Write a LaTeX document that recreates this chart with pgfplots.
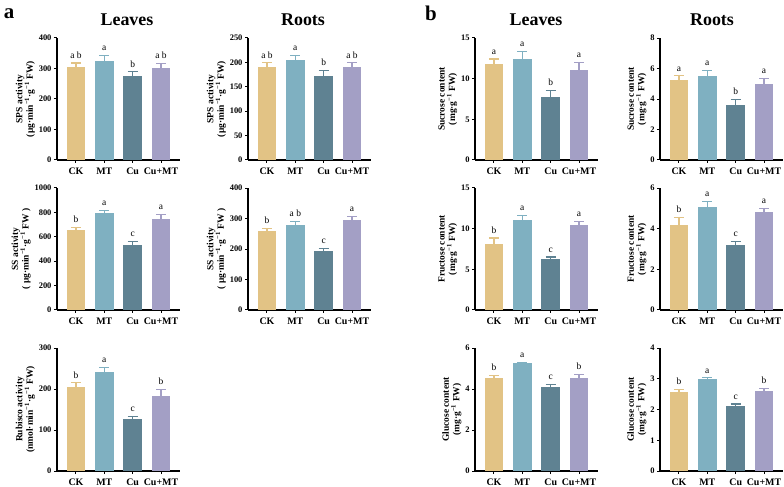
\documentclass[border=0pt]{standalone}
\usepackage{fontspec}
\setmainfont{Liberation Serif}
\usepackage{pgfplots}
\pgfplotsset{compat=1.18}

\definecolor{ckc}{HTML}{E2C385}
\definecolor{mtc}{HTML}{7FB0C1}
\definecolor{cuc}{HTML}{5F8292}
\definecolor{cmc}{HTML}{A39FC5}

\pgfplotsset{
  panel/.style={
    width=123bp, height=122bp, scale only axis,
    xmin=-0.67, xmax=3.67, ymin=0,
    axis lines*=left,
    axis line style={-, line width=1.1pt, black},
    xtick={0,1,2,3}, xticklabels={CK,MT,Cu,Cu+MT},
    tick align=outside, major tick length=3bp,
    tick style={line width=1pt, black},
    xtick pos=bottom, ytick pos=left,
    /pgf/number format/assume math mode=true,
    /pgf/number format/1000 sep={},
    xticklabel style={font=\bfseries\fontsize{10}{11}\selectfont, yshift=-1bp},
    yticklabel style={font=\bfseries\fontsize{8.5}{9}\selectfont, xshift=1bp},
    ylabel style={font=\bfseries\fontsize{9.5}{10.5}\selectfont, align=center, yshift=-3bp},
    clip=false,
  },
  mkbar/.style={ybar, bar width=0.65, bar shift=0pt, fill=#1, draw=none,
    error bars/.cd, y dir=plus, y explicit,
    error bar style={#1, line width=1.1pt},
    error mark options={#1, rotate=90, mark size=5bp, line width=1.1pt}},
  letters/.style={draw=none, mark=none, nodes near coords,
    point meta=explicit symbolic,
    nodes near coords style={anchor=south, inner sep=1bp, yshift=3.5bp,
      font=\fontsize{9.5}{10}\selectfont, black}},
}

% four treatment bars: value/error pairs for CK, MT, Cu, Cu+MT
\newcommand{\fourbars}[8]{%
  \addplot[mkbar=ckc] coordinates {(0,#1) +- (0,#2)};
  \addplot[mkbar=mtc] coordinates {(1,#3) +- (0,#4)};
  \addplot[mkbar=cuc] coordinates {(2,#5) +- (0,#6)};
  \addplot[mkbar=cmc] coordinates {(3,#7) +- (0,#8)};
}

\begin{document}
\begin{tikzpicture}
\useasboundingbox (0bp,0bp) rectangle (784bp,487bp);

% panel letters and column titles
\node[font=\bfseries\fontsize{21}{23}\selectfont] at (9bp,473bp) {a};
\node[font=\bfseries\fontsize{21}{23}\selectfont] at (431bp,474bp) {b};
\node[font=\bfseries\fontsize{18}{20}\selectfont] at (127bp,467bp) {Leaves};
\node[font=\bfseries\fontsize{18}{20}\selectfont] at (303bp,467bp) {Roots};
\node[font=\bfseries\fontsize{18}{20}\selectfont] at (536bp,467bp) {Leaves};
\node[font=\bfseries\fontsize{18}{20}\selectfont] at (712bp,467bp) {Roots};

% ---------- a: enzyme activities ----------
\begin{axis}[panel, at={(57bp,327bp)}, ymax=400, ytick distance=100,
  ylabel={SPS activity\\(μg·min\textsuperscript{−1}·g\textsuperscript{−1} FW)}]
  \fourbars{305}{13}{326}{16}{275}{14}{301}{16}
  \addplot[letters] coordinates {(0,318)[a b] (1,342)[a] (2,289)[b] (3,317)[a b]};
\end{axis}

\begin{axis}[panel, at={(248bp,327bp)}, ymax=250, ytick distance=50,
  ylabel={SPS activity\\(μg·min\textsuperscript{−1}·g\textsuperscript{−1} FW)}]
  \fourbars{191}{8}{205}{9}{173}{11}{190}{9}
  \addplot[letters] coordinates {(0,199)[a b] (1,214)[a] (2,184)[b] (3,199)[a b]};
\end{axis}

\begin{axis}[panel, at={(57bp,177bp)}, ymax=1000, ytick distance=200,
  ylabel={SS activity\\( μg·min\textsuperscript{−1}·g\textsuperscript{−1} FW )}]
  \fourbars{652}{27}{795}{21}{534}{30}{748}{33}
  \addplot[letters] coordinates {(0,679)[b] (1,816)[a] (2,564)[c] (3,781)[a]};
\end{axis}

\begin{axis}[panel, at={(248bp,177bp)}, ymax=400, ytick distance=100,
  ylabel={SS activity\\( μg·min\textsuperscript{−1}·g\textsuperscript{−1} FW )}]
  \fourbars{258}{9}{278}{13}{194}{9}{294}{12}
  \addplot[letters] coordinates {(0,267)[b] (1,291)[a b] (2,203)[c] (3,306)[a]};
\end{axis}

\begin{axis}[panel, at={(57bp,16bp)}, height=123bp, ymax=300, ytick distance=100,
  ylabel={Rubisco activity\\(nmol·min\textsuperscript{−1}·g\textsuperscript{−1} FW)}]
  \fourbars{206}{9}{241}{12}{127}{6}{184}{15}
  \addplot[letters] coordinates {(0,215)[b] (1,253)[a] (2,133)[c] (3,199)[b]};
\end{axis}

% ---------- b: sugar contents ----------
\begin{axis}[panel, at={(475bp,327bp)}, ymax=15, ytick distance=5,
  ylabel={Sucrose content\\(mg·g\textsuperscript{−1} FW)}]
  \fourbars{11.76}{0.66}{12.38}{0.98}{7.70}{0.82}{11.10}{0.90}
  \addplot[letters] coordinates {(0,12.42)[a] (1,13.36)[a] (2,8.52)[b] (3,12.0)[a]};
\end{axis}

\begin{axis}[panel, at={(660bp,327bp)}, ymax=8, ytick distance=2,
  ylabel={Sucrose content\\(mg·g\textsuperscript{−1} FW)}]
  \fourbars{5.25}{0.27}{5.49}{0.38}{3.58}{0.40}{4.99}{0.37}
  \addplot[letters] coordinates {(0,5.52)[a] (1,5.87)[a] (2,3.98)[b] (3,5.36)[a]};
\end{axis}

\begin{axis}[panel, at={(475bp,177bp)}, ymax=15, ytick distance=5,
  ylabel={Fructose content\\(mg·g\textsuperscript{−1} FW)}]
  \fourbars{8.07}{0.78}{11.10}{0.50}{6.23}{0.29}{10.45}{0.41}
  \addplot[letters] coordinates {(0,8.85)[b] (1,11.6)[a] (2,6.52)[c] (3,10.86)[a]};
\end{axis}

\begin{axis}[panel, at={(660bp,177bp)}, ymax=6, ytick distance=2,
  ylabel={Fructose content\\(mg·g\textsuperscript{−1} FW)}]
  \fourbars{4.16}{0.38}{5.09}{0.24}{3.20}{0.17}{4.80}{0.18}
  \addplot[letters] coordinates {(0,4.54)[b] (1,5.33)[a] (2,3.37)[c] (3,4.98)[a]};
\end{axis}

\begin{axis}[panel, at={(475bp,16bp)}, height=123bp, ymax=6, ytick distance=2,
  ylabel={Glucose content\\(mg·g\textsuperscript{−1} FW)}]
  \fourbars{4.52}{0.14}{5.26}{0.05}{4.08}{0.13}{4.52}{0.18}
  \addplot[letters] coordinates {(0,4.66)[b] (1,5.31)[a] (2,4.21)[c] (3,4.70)[b]};
\end{axis}

\begin{axis}[panel, at={(660bp,16bp)}, height=123bp, ymax=4, ytick distance=1,
  ylabel={Glucose content\\(mg·g\textsuperscript{−1} FW)}]
  \fourbars{2.58}{0.08}{3.00}{0.03}{2.13}{0.05}{2.59}{0.10}
  \addplot[letters] coordinates {(0,2.66)[b] (1,3.03)[a] (2,2.18)[c] (3,2.69)[b]};
\end{axis}
\end{tikzpicture}
\end{document}
